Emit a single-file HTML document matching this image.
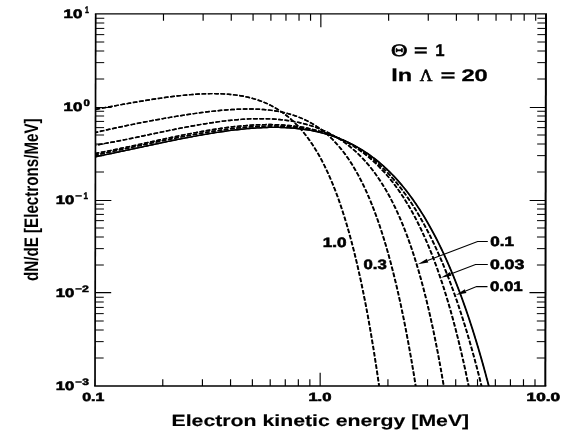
<!DOCTYPE html>
<html><head><meta charset="utf-8"><title>plot</title>
<style>html,body{margin:0;padding:0;background:#fff;}body{width:572px;height:436px;overflow:hidden;font-family:"Liberation Sans",sans-serif;}svg{display:block;will-change:transform;}text{text-rendering:geometricPrecision;}</style></head>
<body>
<svg width="572" height="436" viewBox="0 0 572 436">
<rect width="572" height="436" fill="#fff"/>
<defs><clipPath id="cp"><rect x="95.7" y="14.0" width="450.3" height="372.0"/></clipPath></defs>
<g stroke="#000" fill="none">
<line x1="94.85000000000001" y1="13.9" x2="547.0" y2="13.9" stroke-width="1.3"/>
<line x1="94.15" y1="386.0" x2="546.30" y2="386.0" stroke-width="1.5"/>
<line x1="95.7" y1="14.0" x2="95.00" y2="386.0" stroke-width="1.7"/>
<line x1="546.0" y1="14.0" x2="545.30" y2="386.0" stroke-width="2.0"/>
<path d="M163.48,14.0 v6.7 M162.78,386.0 v-6.7 M203.12,14.0 v6.7 M202.42,386.0 v-6.7 M231.25,14.0 v6.7 M230.55,386.0 v-6.7 M253.07,14.0 v6.7 M252.37,386.0 v-6.7 M270.90,14.0 v6.7 M270.20,386.0 v-6.7 M285.97,14.0 v6.7 M285.27,386.0 v-6.7 M299.03,14.0 v6.7 M298.33,386.0 v-6.7 M310.55,14.0 v6.7 M309.85,386.0 v-6.7 M320.85,14.0 v13.3 M320.15,386.0 v-13.3 M388.63,14.0 v6.7 M387.93,386.0 v-6.7 M428.27,14.0 v6.7 M427.57,386.0 v-6.7 M456.40,14.0 v6.7 M455.70,386.0 v-6.7 M478.22,14.0 v6.7 M477.52,386.0 v-6.7 M496.05,14.0 v6.7 M495.35,386.0 v-6.7 M511.12,14.0 v6.7 M510.42,386.0 v-6.7 M524.18,14.0 v6.7 M523.48,386.0 v-6.7 M535.70,14.0 v6.7 M535.00,386.0 v-6.7" stroke-width="1.15"/>
<path d="M95.05,358.00 h8.6 M545.35,358.00 h-8.6 M95.08,341.63 h8.6 M545.38,341.63 h-8.6 M95.11,330.01 h8.6 M545.41,330.01 h-8.6 M95.12,321.00 h8.6 M545.42,321.00 h-8.6 M95.14,313.63 h8.6 M545.44,313.63 h-8.6 M95.15,307.41 h8.6 M545.45,307.41 h-8.6 M95.16,302.01 h8.6 M545.46,302.01 h-8.6 M95.17,297.26 h8.6 M545.47,297.26 h-8.6 M95.23,265.00 h8.6 M545.53,265.00 h-8.6 M95.26,248.63 h8.6 M545.56,248.63 h-8.6 M95.28,237.01 h8.6 M545.58,237.01 h-8.6 M95.30,228.00 h8.6 M545.60,228.00 h-8.6 M95.31,220.63 h8.6 M545.61,220.63 h-8.6 M95.32,214.41 h8.6 M545.62,214.41 h-8.6 M95.33,209.01 h8.6 M545.63,209.01 h-8.6 M95.34,204.26 h8.6 M545.64,204.26 h-8.6 M95.40,172.00 h8.6 M545.70,172.00 h-8.6 M95.43,155.63 h8.6 M545.73,155.63 h-8.6 M95.46,144.01 h8.6 M545.76,144.01 h-8.6 M95.47,135.00 h8.6 M545.77,135.00 h-8.6 M95.49,127.63 h8.6 M545.79,127.63 h-8.6 M95.50,121.41 h8.6 M545.80,121.41 h-8.6 M95.51,116.01 h8.6 M545.81,116.01 h-8.6 M95.52,111.26 h8.6 M545.82,111.26 h-8.6 M95.58,79.00 h8.6 M545.88,79.00 h-8.6 M95.61,62.63 h8.6 M545.91,62.63 h-8.6 M95.63,51.01 h8.6 M545.93,51.01 h-8.6 M95.65,42.00 h8.6 M545.95,42.00 h-8.6 M95.66,34.63 h8.6 M545.96,34.63 h-8.6 M95.67,28.41 h8.6 M545.97,28.41 h-8.6 M95.68,23.01 h8.6 M545.98,23.01 h-8.6 M95.69,18.26 h8.6 M545.99,18.26 h-8.6" stroke-width="1.0"/>
<path d="M95.18,292.60 h16 M545.48,292.60 h-16 M95.35,200.45 h16 M545.65,200.45 h-16 M95.52,107.45 h16 M545.82,107.45 h-16" stroke-width="1.1"/>
</g>
<g clip-path="url(#cp)" stroke="#000" fill="none" stroke-linejoin="round">
<path d="M95.70,109.30 L97.67,108.94 L99.64,108.58 L101.60,108.22 L103.57,107.87 L105.54,107.51 L107.51,107.15 L109.47,106.79 L111.44,106.44 L113.41,106.08 L115.38,105.72 L117.35,105.37 L119.32,105.02 L121.28,104.66 L123.25,104.31 L125.22,103.96 L127.19,103.62 L129.16,103.27 L131.13,102.93 L133.10,102.58 L135.07,102.24 L137.04,101.91 L139.02,101.57 L140.99,101.24 L142.96,100.91 L144.94,100.59 L146.91,100.27 L148.88,99.95 L150.86,99.64 L152.84,99.33 L154.81,99.02 L156.79,98.72 L158.77,98.43 L160.75,98.14 L162.73,97.85 L164.71,97.57 L166.69,97.30 L168.67,97.04 L170.65,96.78 L172.64,96.53 L174.62,96.28 L176.61,96.05 L178.60,95.82 L180.58,95.60 L182.57,95.39 L184.56,95.19 L186.55,94.99 L188.54,94.81 L190.54,94.64 L192.53,94.48 L194.53,94.34 L196.52,94.20 L198.52,94.08 L200.51,93.97 L202.51,93.88 L204.51,93.80 L206.51,93.73 L208.51,93.69 L210.51,93.65 L212.51,93.64 L214.51,93.64 L216.51,93.67 L218.51,93.71 L220.51,93.77 L222.51,93.86 L224.50,93.96 L226.50,94.09 L228.49,94.25 L230.48,94.42 L232.47,94.63 L234.46,94.86 L236.44,95.12 L238.42,95.40 L240.40,95.72 L242.37,96.07 L244.33,96.44 L246.29,96.85 L248.24,97.30 L250.18,97.77 L252.11,98.29 L254.04,98.83 L255.95,99.42 L257.85,100.04 L259.74,100.69 L261.62,101.39 L263.48,102.12 L265.32,102.89 L267.15,103.70 L268.96,104.55 L270.76,105.43 L272.53,106.36 L274.28,107.32 L276.02,108.32 L277.73,109.36 L279.42,110.43 L281.08,111.54 L282.72,112.68 L284.34,113.86 L285.93,115.07 L287.50,116.31 L289.04,117.59 L290.55,118.89 L292.04,120.23 L293.51,121.59 L294.95,122.98 L296.36,124.39 L297.75,125.83 L299.11,127.30 L300.45,128.78 L301.76,130.29 L303.05,131.82 L304.31,133.37 L305.55,134.94 L306.77,136.53 L307.97,138.13 L309.14,139.75 L310.29,141.38 L311.42,143.03 L312.53,144.70 L313.62,146.38 L314.69,148.07 L315.74,149.77 L316.77,151.48 L317.78,153.21 L318.78,154.94 L319.75,156.69 L320.71,158.44 L321.66,160.21 L322.58,161.98 L323.50,163.76 L324.39,165.55 L325.27,167.34 L326.14,169.14 L326.99,170.95 L327.83,172.77 L328.66,174.59 L329.47,176.42 L330.27,178.25 L331.06,180.09 L331.83,181.93 L332.60,183.78 L333.35,185.63 L334.09,187.49 L334.82,189.35 L335.54,191.22 L336.25,193.09 L336.95,194.96 L337.64,196.84 L338.32,198.72 L338.99,200.61 L339.65,202.49 L340.31,204.38 L340.95,206.28 L341.59,208.17 L342.21,210.07 L342.83,211.97 L343.44,213.88 L344.05,215.78 L344.65,217.69 L345.23,219.60 L345.82,221.52 L346.39,223.43 L346.96,225.35 L347.52,227.27 L348.08,229.19 L348.63,231.12 L349.17,233.04 L349.70,234.97 L350.23,236.90 L350.76,238.83 L351.28,240.76 L351.79,242.69 L352.30,244.62 L352.80,246.56 L353.30,248.50 L353.79,250.44 L354.27,252.38 L354.75,254.32 L355.23,256.26 L355.70,258.20 L356.17,260.15 L356.63,262.09 L357.09,264.04 L357.54,265.99 L357.99,267.94 L358.44,269.89 L358.88,271.84 L359.31,273.79 L359.75,275.74 L360.17,277.70 L360.60,279.65 L361.02,281.61 L361.44,283.56 L361.85,285.52 L362.26,287.48 L362.66,289.44 L363.07,291.40 L363.46,293.36 L363.86,295.32 L364.25,297.28 L364.64,299.24 L365.03,301.20 L365.41,303.16 L365.79,305.13 L366.16,307.09 L366.54,309.06 L366.91,311.02 L367.27,312.99 L367.64,314.96 L368.00,316.92 L368.36,318.89 L368.71,320.86 L369.07,322.83 L369.42,324.80 L369.76,326.77 L370.11,328.74 L370.45,330.71 L370.79,332.68 L371.13,334.65 L371.46,336.62 L371.79,338.59 L372.12,340.56 L372.45,342.54 L372.78,344.51 L373.10,346.48 L373.42,348.46 L373.74,350.43 L374.06,352.41 L374.37,354.38 L374.68,356.36 L374.99,358.33 L375.30,360.31 L375.61,362.29 L375.91,364.26 L376.21,366.24 L376.51,368.22 L376.81,370.20 L377.11,372.17 L377.40,374.15 L377.69,376.13 L377.98,378.11 L378.27,380.09 L378.56,382.07 L378.84,384.05 L379.12,386.03 L379.41,388.01 L379.68,389.99" transform="translate(-0.25,0)" stroke-width="1.45" stroke-dasharray="4.5 1.8" stroke-dashoffset="0"/>
<path d="M95.70,109.30 L97.67,108.94 L99.64,108.58 L101.60,108.22 L103.57,107.87 L105.54,107.51 L107.51,107.15 L109.47,106.79 L111.44,106.44 L113.41,106.08 L115.38,105.72 L117.35,105.37 L119.32,105.02 L121.28,104.66 L123.25,104.31 L125.22,103.96 L127.19,103.62 L129.16,103.27 L131.13,102.93 L133.10,102.58 L135.07,102.24 L137.04,101.91 L139.02,101.57 L140.99,101.24 L142.96,100.91 L144.94,100.59 L146.91,100.27 L148.88,99.95 L150.86,99.64 L152.84,99.33 L154.81,99.02 L156.79,98.72 L158.77,98.43 L160.75,98.14 L162.73,97.85 L164.71,97.57 L166.69,97.30 L168.67,97.04 L170.65,96.78 L172.64,96.53 L174.62,96.28 L176.61,96.05 L178.60,95.82 L180.58,95.60 L182.57,95.39 L184.56,95.19 L186.55,94.99 L188.54,94.81 L190.54,94.64 L192.53,94.48 L194.53,94.34 L196.52,94.20 L198.52,94.08 L200.51,93.97 L202.51,93.88 L204.51,93.80 L206.51,93.73 L208.51,93.69 L210.51,93.65 L212.51,93.64 L214.51,93.64 L216.51,93.67 L218.51,93.71 L220.51,93.77 L222.51,93.86 L224.50,93.96 L226.50,94.09 L228.49,94.25 L230.48,94.42 L232.47,94.63 L234.46,94.86 L236.44,95.12 L238.42,95.40 L240.40,95.72 L242.37,96.07 L244.33,96.44 L246.29,96.85 L248.24,97.30 L250.18,97.77 L252.11,98.29 L254.04,98.83 L255.95,99.42 L257.85,100.04 L259.74,100.69 L261.62,101.39 L263.48,102.12 L265.32,102.89 L267.15,103.70 L268.96,104.55 L270.76,105.43 L272.53,106.36 L274.28,107.32 L276.02,108.32 L277.73,109.36 L279.42,110.43 L281.08,111.54 L282.72,112.68 L284.34,113.86 L285.93,115.07 L287.50,116.31 L289.04,117.59 L290.55,118.89 L292.04,120.23 L293.51,121.59 L294.95,122.98 L296.36,124.39 L297.75,125.83 L299.11,127.30 L300.45,128.78 L301.76,130.29 L303.05,131.82 L304.31,133.37 L305.55,134.94 L306.77,136.53 L307.97,138.13 L309.14,139.75 L310.29,141.38 L311.42,143.03 L312.53,144.70 L313.62,146.38 L314.69,148.07 L315.74,149.77 L316.77,151.48 L317.78,153.21 L318.78,154.94 L319.75,156.69 L320.71,158.44 L321.66,160.21 L322.58,161.98 L323.50,163.76 L324.39,165.55 L325.27,167.34 L326.14,169.14 L326.99,170.95 L327.83,172.77 L328.66,174.59 L329.47,176.42 L330.27,178.25 L331.06,180.09 L331.83,181.93 L332.60,183.78 L333.35,185.63 L334.09,187.49 L334.82,189.35 L335.54,191.22 L336.25,193.09 L336.95,194.96 L337.64,196.84 L338.32,198.72 L338.99,200.61 L339.65,202.49 L340.31,204.38 L340.95,206.28 L341.59,208.17 L342.21,210.07 L342.83,211.97 L343.44,213.88 L344.05,215.78 L344.65,217.69 L345.23,219.60 L345.82,221.52 L346.39,223.43 L346.96,225.35 L347.52,227.27 L348.08,229.19 L348.63,231.12 L349.17,233.04 L349.70,234.97 L350.23,236.90 L350.76,238.83 L351.28,240.76 L351.79,242.69 L352.30,244.62 L352.80,246.56 L353.30,248.50 L353.79,250.44 L354.27,252.38 L354.75,254.32 L355.23,256.26 L355.70,258.20 L356.17,260.15 L356.63,262.09 L357.09,264.04 L357.54,265.99 L357.99,267.94 L358.44,269.89 L358.88,271.84 L359.31,273.79 L359.75,275.74 L360.17,277.70 L360.60,279.65 L361.02,281.61 L361.44,283.56 L361.85,285.52 L362.26,287.48 L362.66,289.44 L363.07,291.40 L363.46,293.36 L363.86,295.32 L364.25,297.28 L364.64,299.24 L365.03,301.20 L365.41,303.16 L365.79,305.13 L366.16,307.09 L366.54,309.06 L366.91,311.02 L367.27,312.99 L367.64,314.96 L368.00,316.92 L368.36,318.89 L368.71,320.86 L369.07,322.83 L369.42,324.80 L369.76,326.77 L370.11,328.74 L370.45,330.71 L370.79,332.68 L371.13,334.65 L371.46,336.62 L371.79,338.59 L372.12,340.56 L372.45,342.54 L372.78,344.51 L373.10,346.48 L373.42,348.46 L373.74,350.43 L374.06,352.41 L374.37,354.38 L374.68,356.36 L374.99,358.33 L375.30,360.31 L375.61,362.29 L375.91,364.26 L376.21,366.24 L376.51,368.22 L376.81,370.20 L377.11,372.17 L377.40,374.15 L377.69,376.13 L377.98,378.11 L378.27,380.09 L378.56,382.07 L378.84,384.05 L379.12,386.03 L379.41,388.01 L379.68,389.99" transform="translate(0.25,0)" stroke-width="1.45" stroke-dasharray="4.5 1.8" stroke-dashoffset="0"/>
<path d="M95.70,132.43 L97.65,131.97 L99.60,131.52 L101.55,131.08 L103.50,130.63 L105.45,130.19 L107.40,129.75 L109.35,129.32 L111.30,128.89 L113.26,128.46 L115.21,128.04 L117.17,127.61 L119.12,127.19 L121.08,126.78 L123.04,126.36 L124.99,125.95 L126.95,125.55 L128.91,125.14 L130.87,124.74 L132.83,124.34 L134.79,123.95 L136.75,123.55 L138.71,123.16 L140.67,122.78 L142.64,122.39 L144.60,122.01 L146.56,121.63 L148.53,121.26 L150.49,120.89 L152.46,120.52 L154.43,120.15 L156.39,119.79 L158.36,119.43 L160.33,119.08 L162.30,118.73 L164.27,118.38 L166.24,118.03 L168.21,117.69 L170.18,117.35 L172.15,117.02 L174.12,116.69 L176.10,116.36 L178.07,116.04 L180.05,115.72 L182.02,115.41 L184.00,115.10 L185.97,114.80 L187.95,114.50 L189.93,114.20 L191.91,113.91 L193.89,113.63 L195.87,113.35 L197.85,113.08 L199.83,112.81 L201.81,112.55 L203.80,112.30 L205.78,112.05 L207.77,111.81 L209.75,111.57 L211.74,111.35 L213.73,111.13 L215.72,110.92 L217.71,110.72 L219.70,110.53 L221.69,110.34 L223.68,110.17 L225.68,110.01 L227.67,109.86 L229.67,109.72 L231.66,109.59 L233.66,109.47 L235.66,109.36 L237.65,109.27 L239.65,109.19 L241.65,109.13 L243.65,109.08 L245.65,109.05 L247.65,109.03 L249.65,109.03 L251.65,109.05 L253.65,109.09 L255.65,109.14 L257.65,109.22 L259.65,109.32 L261.64,109.44 L263.64,109.58 L265.63,109.75 L267.62,109.94 L269.61,110.15 L271.59,110.40 L273.58,110.67 L275.55,110.97 L277.53,111.29 L279.49,111.65 L281.45,112.04 L283.41,112.47 L285.36,112.92 L287.30,113.41 L289.23,113.93 L291.15,114.49 L293.06,115.09 L294.95,115.72 L296.84,116.39 L298.71,117.10 L300.57,117.84 L302.41,118.62 L304.23,119.44 L306.04,120.30 L307.82,121.20 L309.59,122.14 L311.34,123.11 L313.07,124.12 L314.77,125.16 L316.45,126.24 L318.11,127.36 L319.75,128.51 L321.36,129.70 L322.94,130.92 L324.51,132.16 L326.04,133.44 L327.55,134.75 L329.04,136.09 L330.50,137.46 L331.94,138.85 L333.35,140.27 L334.73,141.71 L336.10,143.17 L337.43,144.66 L338.75,146.17 L340.03,147.70 L341.30,149.25 L342.54,150.82 L343.76,152.40 L344.96,154.00 L346.14,155.62 L347.29,157.25 L348.43,158.90 L349.54,160.56 L350.64,162.23 L351.71,163.92 L352.77,165.62 L353.80,167.33 L354.82,169.05 L355.83,170.78 L356.81,172.52 L357.78,174.27 L358.73,176.03 L359.67,177.80 L360.59,179.57 L361.50,181.35 L362.39,183.14 L363.27,184.94 L364.13,186.74 L364.98,188.55 L365.82,190.37 L366.65,192.19 L367.46,194.02 L368.26,195.85 L369.05,197.69 L369.82,199.53 L370.59,201.38 L371.35,203.23 L372.09,205.09 L372.82,206.95 L373.55,208.81 L374.26,210.68 L374.97,212.55 L375.66,214.43 L376.35,216.31 L377.02,218.19 L377.69,220.08 L378.35,221.96 L379.00,223.85 L379.65,225.75 L380.28,227.64 L380.91,229.54 L381.53,231.44 L382.14,233.35 L382.75,235.25 L383.35,237.16 L383.94,239.07 L384.52,240.99 L385.10,242.90 L385.67,244.82 L386.24,246.74 L386.80,248.66 L387.35,250.58 L387.90,252.50 L388.44,254.43 L388.97,256.35 L389.50,258.28 L390.03,260.21 L390.55,262.14 L391.06,264.08 L391.57,266.01 L392.07,267.95 L392.57,269.88 L393.06,271.82 L393.55,273.76 L394.04,275.70 L394.52,277.64 L394.99,279.59 L395.46,281.53 L395.93,283.48 L396.39,285.42 L396.85,287.37 L397.30,289.32 L397.75,291.27 L398.20,293.21 L398.64,295.17 L399.07,297.12 L399.51,299.07 L399.94,301.02 L400.37,302.98 L400.79,304.93 L401.21,306.89 L401.62,308.84 L402.04,310.80 L402.44,312.76 L402.85,314.72 L403.25,316.68 L403.65,318.64 L404.05,320.60 L404.44,322.56 L404.83,324.52 L405.22,326.48 L405.60,328.44 L405.98,330.41 L406.36,332.37 L406.74,334.33 L407.11,336.30 L407.48,338.27 L407.85,340.23 L408.21,342.20 L408.57,344.16 L408.93,346.13 L409.29,348.10 L409.64,350.07 L409.99,352.04 L410.34,354.01 L410.69,355.98 L411.03,357.95 L411.38,359.92 L411.71,361.89 L412.05,363.86 L412.39,365.83 L412.72,367.80 L413.05,369.78 L413.38,371.75 L413.71,373.72 L414.03,375.70 L414.35,377.67 L414.67,379.64 L414.99,381.62 L415.31,383.59 L415.62,385.57 L415.93,387.54 L416.24,389.52 L416.55,391.50" transform="translate(-0.25,0)" stroke-width="1.45" stroke-dasharray="4.5 1.8" stroke-dashoffset="2"/>
<path d="M95.70,132.43 L97.65,131.97 L99.60,131.52 L101.55,131.08 L103.50,130.63 L105.45,130.19 L107.40,129.75 L109.35,129.32 L111.30,128.89 L113.26,128.46 L115.21,128.04 L117.17,127.61 L119.12,127.19 L121.08,126.78 L123.04,126.36 L124.99,125.95 L126.95,125.55 L128.91,125.14 L130.87,124.74 L132.83,124.34 L134.79,123.95 L136.75,123.55 L138.71,123.16 L140.67,122.78 L142.64,122.39 L144.60,122.01 L146.56,121.63 L148.53,121.26 L150.49,120.89 L152.46,120.52 L154.43,120.15 L156.39,119.79 L158.36,119.43 L160.33,119.08 L162.30,118.73 L164.27,118.38 L166.24,118.03 L168.21,117.69 L170.18,117.35 L172.15,117.02 L174.12,116.69 L176.10,116.36 L178.07,116.04 L180.05,115.72 L182.02,115.41 L184.00,115.10 L185.97,114.80 L187.95,114.50 L189.93,114.20 L191.91,113.91 L193.89,113.63 L195.87,113.35 L197.85,113.08 L199.83,112.81 L201.81,112.55 L203.80,112.30 L205.78,112.05 L207.77,111.81 L209.75,111.57 L211.74,111.35 L213.73,111.13 L215.72,110.92 L217.71,110.72 L219.70,110.53 L221.69,110.34 L223.68,110.17 L225.68,110.01 L227.67,109.86 L229.67,109.72 L231.66,109.59 L233.66,109.47 L235.66,109.36 L237.65,109.27 L239.65,109.19 L241.65,109.13 L243.65,109.08 L245.65,109.05 L247.65,109.03 L249.65,109.03 L251.65,109.05 L253.65,109.09 L255.65,109.14 L257.65,109.22 L259.65,109.32 L261.64,109.44 L263.64,109.58 L265.63,109.75 L267.62,109.94 L269.61,110.15 L271.59,110.40 L273.58,110.67 L275.55,110.97 L277.53,111.29 L279.49,111.65 L281.45,112.04 L283.41,112.47 L285.36,112.92 L287.30,113.41 L289.23,113.93 L291.15,114.49 L293.06,115.09 L294.95,115.72 L296.84,116.39 L298.71,117.10 L300.57,117.84 L302.41,118.62 L304.23,119.44 L306.04,120.30 L307.82,121.20 L309.59,122.14 L311.34,123.11 L313.07,124.12 L314.77,125.16 L316.45,126.24 L318.11,127.36 L319.75,128.51 L321.36,129.70 L322.94,130.92 L324.51,132.16 L326.04,133.44 L327.55,134.75 L329.04,136.09 L330.50,137.46 L331.94,138.85 L333.35,140.27 L334.73,141.71 L336.10,143.17 L337.43,144.66 L338.75,146.17 L340.03,147.70 L341.30,149.25 L342.54,150.82 L343.76,152.40 L344.96,154.00 L346.14,155.62 L347.29,157.25 L348.43,158.90 L349.54,160.56 L350.64,162.23 L351.71,163.92 L352.77,165.62 L353.80,167.33 L354.82,169.05 L355.83,170.78 L356.81,172.52 L357.78,174.27 L358.73,176.03 L359.67,177.80 L360.59,179.57 L361.50,181.35 L362.39,183.14 L363.27,184.94 L364.13,186.74 L364.98,188.55 L365.82,190.37 L366.65,192.19 L367.46,194.02 L368.26,195.85 L369.05,197.69 L369.82,199.53 L370.59,201.38 L371.35,203.23 L372.09,205.09 L372.82,206.95 L373.55,208.81 L374.26,210.68 L374.97,212.55 L375.66,214.43 L376.35,216.31 L377.02,218.19 L377.69,220.08 L378.35,221.96 L379.00,223.85 L379.65,225.75 L380.28,227.64 L380.91,229.54 L381.53,231.44 L382.14,233.35 L382.75,235.25 L383.35,237.16 L383.94,239.07 L384.52,240.99 L385.10,242.90 L385.67,244.82 L386.24,246.74 L386.80,248.66 L387.35,250.58 L387.90,252.50 L388.44,254.43 L388.97,256.35 L389.50,258.28 L390.03,260.21 L390.55,262.14 L391.06,264.08 L391.57,266.01 L392.07,267.95 L392.57,269.88 L393.06,271.82 L393.55,273.76 L394.04,275.70 L394.52,277.64 L394.99,279.59 L395.46,281.53 L395.93,283.48 L396.39,285.42 L396.85,287.37 L397.30,289.32 L397.75,291.27 L398.20,293.21 L398.64,295.17 L399.07,297.12 L399.51,299.07 L399.94,301.02 L400.37,302.98 L400.79,304.93 L401.21,306.89 L401.62,308.84 L402.04,310.80 L402.44,312.76 L402.85,314.72 L403.25,316.68 L403.65,318.64 L404.05,320.60 L404.44,322.56 L404.83,324.52 L405.22,326.48 L405.60,328.44 L405.98,330.41 L406.36,332.37 L406.74,334.33 L407.11,336.30 L407.48,338.27 L407.85,340.23 L408.21,342.20 L408.57,344.16 L408.93,346.13 L409.29,348.10 L409.64,350.07 L409.99,352.04 L410.34,354.01 L410.69,355.98 L411.03,357.95 L411.38,359.92 L411.71,361.89 L412.05,363.86 L412.39,365.83 L412.72,367.80 L413.05,369.78 L413.38,371.75 L413.71,373.72 L414.03,375.70 L414.35,377.67 L414.67,379.64 L414.99,381.62 L415.31,383.59 L415.62,385.57 L415.93,387.54 L416.24,389.52 L416.55,391.50" transform="translate(0.25,0)" stroke-width="1.45" stroke-dasharray="4.5 1.8" stroke-dashoffset="2"/>
<path d="M95.70,145.11 L97.67,144.78 L99.64,144.44 L101.61,144.09 L103.58,143.74 L105.55,143.39 L107.52,143.03 L109.49,142.67 L111.45,142.30 L113.42,141.93 L115.38,141.55 L117.34,141.17 L119.31,140.78 L121.27,140.40 L123.23,140.01 L125.19,139.61 L127.15,139.22 L129.11,138.82 L131.07,138.42 L133.03,138.02 L134.99,137.61 L136.95,137.20 L138.90,136.80 L140.86,136.39 L142.82,135.98 L144.78,135.57 L146.73,135.15 L148.69,134.74 L150.65,134.33 L152.61,133.92 L154.56,133.51 L156.52,133.10 L158.48,132.69 L160.44,132.28 L162.39,131.87 L164.35,131.46 L166.31,131.06 L168.27,130.65 L170.23,130.25 L172.19,129.86 L174.15,129.46 L176.11,129.07 L178.07,128.68 L180.03,128.29 L182.00,127.91 L183.96,127.53 L185.92,127.15 L187.89,126.78 L189.86,126.41 L191.82,126.05 L193.79,125.69 L195.76,125.34 L197.73,124.99 L199.70,124.65 L201.67,124.32 L203.64,123.99 L205.62,123.67 L207.59,123.35 L209.57,123.05 L211.55,122.75 L213.53,122.45 L215.51,122.17 L217.49,121.89 L219.47,121.63 L221.45,121.37 L223.44,121.12 L225.42,120.88 L227.41,120.65 L229.40,120.43 L231.39,120.23 L233.38,120.03 L235.37,119.85 L237.36,119.67 L239.35,119.51 L241.35,119.36 L243.34,119.23 L245.34,119.11 L247.34,119.00 L249.33,118.90 L251.33,118.82 L253.33,118.76 L255.33,118.71 L257.33,118.68 L259.33,118.66 L261.33,118.66 L263.33,118.68 L265.33,118.72 L267.33,118.77 L269.33,118.85 L271.33,118.94 L273.32,119.05 L275.32,119.18 L277.31,119.34 L279.31,119.51 L281.30,119.71 L283.28,119.93 L285.27,120.17 L287.25,120.44 L289.23,120.73 L291.20,121.04 L293.18,121.38 L295.14,121.75 L297.10,122.14 L299.06,122.56 L301.01,123.00 L302.95,123.48 L304.89,123.98 L306.82,124.51 L308.74,125.06 L310.65,125.65 L312.55,126.27 L314.45,126.91 L316.33,127.59 L318.20,128.29 L320.06,129.03 L321.91,129.79 L323.74,130.59 L325.56,131.42 L327.37,132.27 L329.16,133.16 L330.94,134.08 L332.70,135.03 L334.44,136.01 L336.17,137.02 L337.88,138.05 L339.57,139.12 L341.24,140.22 L342.90,141.34 L344.53,142.49 L346.15,143.67 L347.74,144.88 L349.32,146.11 L350.87,147.37 L352.41,148.65 L353.92,149.96 L355.41,151.30 L356.88,152.65 L358.33,154.03 L359.76,155.43 L361.17,156.85 L362.55,158.29 L363.92,159.75 L365.26,161.23 L366.59,162.73 L367.89,164.25 L369.17,165.78 L370.44,167.33 L371.68,168.90 L372.90,170.48 L374.11,172.08 L375.29,173.69 L376.46,175.32 L377.61,176.95 L378.73,178.60 L379.85,180.27 L380.94,181.94 L382.02,183.63 L383.08,185.32 L384.12,187.03 L385.14,188.75 L386.15,190.47 L387.15,192.21 L388.13,193.95 L389.09,195.70 L390.04,197.46 L390.98,199.23 L391.90,201.01 L392.81,202.79 L393.70,204.58 L394.58,206.38 L395.45,208.18 L396.30,209.99 L397.14,211.80 L397.97,213.62 L398.79,215.44 L399.60,217.27 L400.39,219.11 L401.18,220.95 L401.95,222.79 L402.71,224.64 L403.46,226.50 L404.21,228.35 L404.94,230.21 L405.66,232.08 L406.37,233.95 L407.08,235.82 L407.77,237.70 L408.46,239.58 L409.13,241.46 L409.80,243.34 L410.46,245.23 L411.11,247.12 L411.76,249.01 L412.39,250.91 L413.02,252.81 L413.64,254.71 L414.25,256.62 L414.86,258.52 L415.46,260.43 L416.05,262.34 L416.63,264.25 L417.21,266.17 L417.78,268.08 L418.35,270.00 L418.91,271.92 L419.46,273.84 L420.01,275.77 L420.55,277.69 L421.08,279.62 L421.61,281.55 L422.13,283.48 L422.65,285.41 L423.17,287.35 L423.67,289.28 L424.18,291.22 L424.67,293.15 L425.16,295.09 L425.65,297.03 L426.13,298.97 L426.61,300.91 L427.08,302.86 L427.55,304.80 L428.02,306.75 L428.48,308.69 L428.93,310.64 L429.38,312.59 L429.83,314.54 L430.27,316.49 L430.71,318.44 L431.14,320.39 L431.58,322.35 L432.00,324.30 L432.42,326.26 L432.84,328.21 L433.26,330.17 L433.67,332.12 L434.08,334.08 L434.48,336.04 L434.89,338.00 L435.28,339.96 L435.68,341.92 L436.07,343.88 L436.46,345.84 L436.84,347.81 L437.22,349.77 L437.60,351.73 L437.98,353.70 L438.35,355.66 L438.72,357.63 L439.09,359.60 L439.45,361.56 L439.81,363.53 L440.17,365.50 L440.52,367.46 L440.88,369.43 L441.23,371.40 L441.57,373.37 L441.92,375.34 L442.26,377.31 L442.60,379.28 L442.94,381.25 L443.27,383.23 L443.61,385.20 L443.94,387.17 L444.26,389.14 L444.59,391.12" transform="translate(-0.25,0)" stroke-width="1.45" stroke-dasharray="4.5 1.8" stroke-dashoffset="4"/>
<path d="M95.70,145.11 L97.67,144.78 L99.64,144.44 L101.61,144.09 L103.58,143.74 L105.55,143.39 L107.52,143.03 L109.49,142.67 L111.45,142.30 L113.42,141.93 L115.38,141.55 L117.34,141.17 L119.31,140.78 L121.27,140.40 L123.23,140.01 L125.19,139.61 L127.15,139.22 L129.11,138.82 L131.07,138.42 L133.03,138.02 L134.99,137.61 L136.95,137.20 L138.90,136.80 L140.86,136.39 L142.82,135.98 L144.78,135.57 L146.73,135.15 L148.69,134.74 L150.65,134.33 L152.61,133.92 L154.56,133.51 L156.52,133.10 L158.48,132.69 L160.44,132.28 L162.39,131.87 L164.35,131.46 L166.31,131.06 L168.27,130.65 L170.23,130.25 L172.19,129.86 L174.15,129.46 L176.11,129.07 L178.07,128.68 L180.03,128.29 L182.00,127.91 L183.96,127.53 L185.92,127.15 L187.89,126.78 L189.86,126.41 L191.82,126.05 L193.79,125.69 L195.76,125.34 L197.73,124.99 L199.70,124.65 L201.67,124.32 L203.64,123.99 L205.62,123.67 L207.59,123.35 L209.57,123.05 L211.55,122.75 L213.53,122.45 L215.51,122.17 L217.49,121.89 L219.47,121.63 L221.45,121.37 L223.44,121.12 L225.42,120.88 L227.41,120.65 L229.40,120.43 L231.39,120.23 L233.38,120.03 L235.37,119.85 L237.36,119.67 L239.35,119.51 L241.35,119.36 L243.34,119.23 L245.34,119.11 L247.34,119.00 L249.33,118.90 L251.33,118.82 L253.33,118.76 L255.33,118.71 L257.33,118.68 L259.33,118.66 L261.33,118.66 L263.33,118.68 L265.33,118.72 L267.33,118.77 L269.33,118.85 L271.33,118.94 L273.32,119.05 L275.32,119.18 L277.31,119.34 L279.31,119.51 L281.30,119.71 L283.28,119.93 L285.27,120.17 L287.25,120.44 L289.23,120.73 L291.20,121.04 L293.18,121.38 L295.14,121.75 L297.10,122.14 L299.06,122.56 L301.01,123.00 L302.95,123.48 L304.89,123.98 L306.82,124.51 L308.74,125.06 L310.65,125.65 L312.55,126.27 L314.45,126.91 L316.33,127.59 L318.20,128.29 L320.06,129.03 L321.91,129.79 L323.74,130.59 L325.56,131.42 L327.37,132.27 L329.16,133.16 L330.94,134.08 L332.70,135.03 L334.44,136.01 L336.17,137.02 L337.88,138.05 L339.57,139.12 L341.24,140.22 L342.90,141.34 L344.53,142.49 L346.15,143.67 L347.74,144.88 L349.32,146.11 L350.87,147.37 L352.41,148.65 L353.92,149.96 L355.41,151.30 L356.88,152.65 L358.33,154.03 L359.76,155.43 L361.17,156.85 L362.55,158.29 L363.92,159.75 L365.26,161.23 L366.59,162.73 L367.89,164.25 L369.17,165.78 L370.44,167.33 L371.68,168.90 L372.90,170.48 L374.11,172.08 L375.29,173.69 L376.46,175.32 L377.61,176.95 L378.73,178.60 L379.85,180.27 L380.94,181.94 L382.02,183.63 L383.08,185.32 L384.12,187.03 L385.14,188.75 L386.15,190.47 L387.15,192.21 L388.13,193.95 L389.09,195.70 L390.04,197.46 L390.98,199.23 L391.90,201.01 L392.81,202.79 L393.70,204.58 L394.58,206.38 L395.45,208.18 L396.30,209.99 L397.14,211.80 L397.97,213.62 L398.79,215.44 L399.60,217.27 L400.39,219.11 L401.18,220.95 L401.95,222.79 L402.71,224.64 L403.46,226.50 L404.21,228.35 L404.94,230.21 L405.66,232.08 L406.37,233.95 L407.08,235.82 L407.77,237.70 L408.46,239.58 L409.13,241.46 L409.80,243.34 L410.46,245.23 L411.11,247.12 L411.76,249.01 L412.39,250.91 L413.02,252.81 L413.64,254.71 L414.25,256.62 L414.86,258.52 L415.46,260.43 L416.05,262.34 L416.63,264.25 L417.21,266.17 L417.78,268.08 L418.35,270.00 L418.91,271.92 L419.46,273.84 L420.01,275.77 L420.55,277.69 L421.08,279.62 L421.61,281.55 L422.13,283.48 L422.65,285.41 L423.17,287.35 L423.67,289.28 L424.18,291.22 L424.67,293.15 L425.16,295.09 L425.65,297.03 L426.13,298.97 L426.61,300.91 L427.08,302.86 L427.55,304.80 L428.02,306.75 L428.48,308.69 L428.93,310.64 L429.38,312.59 L429.83,314.54 L430.27,316.49 L430.71,318.44 L431.14,320.39 L431.58,322.35 L432.00,324.30 L432.42,326.26 L432.84,328.21 L433.26,330.17 L433.67,332.12 L434.08,334.08 L434.48,336.04 L434.89,338.00 L435.28,339.96 L435.68,341.92 L436.07,343.88 L436.46,345.84 L436.84,347.81 L437.22,349.77 L437.60,351.73 L437.98,353.70 L438.35,355.66 L438.72,357.63 L439.09,359.60 L439.45,361.56 L439.81,363.53 L440.17,365.50 L440.52,367.46 L440.88,369.43 L441.23,371.40 L441.57,373.37 L441.92,375.34 L442.26,377.31 L442.60,379.28 L442.94,381.25 L443.27,383.23 L443.61,385.20 L443.94,387.17 L444.26,389.14 L444.59,391.12" transform="translate(0.25,0)" stroke-width="1.45" stroke-dasharray="4.5 1.8" stroke-dashoffset="4"/>
<path d="M95.70,153.43 L97.67,153.06 L99.63,152.68 L101.59,152.30 L103.56,151.92 L105.52,151.53 L107.48,151.14 L109.44,150.75 L111.40,150.35 L113.36,149.95 L115.32,149.54 L117.28,149.14 L119.23,148.73 L121.19,148.31 L123.15,147.90 L125.10,147.48 L127.06,147.07 L129.02,146.65 L130.97,146.22 L132.93,145.80 L134.88,145.38 L136.83,144.95 L138.79,144.53 L140.74,144.10 L142.70,143.67 L144.65,143.24 L146.60,142.82 L148.56,142.39 L150.51,141.96 L152.47,141.53 L154.42,141.11 L156.37,140.68 L158.33,140.26 L160.28,139.83 L162.24,139.41 L164.19,138.99 L166.15,138.57 L168.10,138.15 L170.06,137.74 L172.02,137.32 L173.97,136.91 L175.93,136.51 L177.89,136.10 L179.85,135.70 L181.81,135.30 L183.77,134.90 L185.73,134.51 L187.69,134.12 L189.66,133.74 L191.62,133.36 L193.58,132.99 L195.55,132.61 L197.52,132.25 L199.48,131.89 L201.45,131.53 L203.42,131.18 L205.39,130.84 L207.36,130.50 L209.34,130.17 L211.31,129.85 L213.28,129.53 L215.26,129.22 L217.24,128.92 L219.21,128.62 L221.19,128.33 L223.17,128.05 L225.16,127.78 L227.14,127.52 L229.12,127.27 L231.11,127.02 L233.09,126.79 L235.08,126.57 L237.07,126.35 L239.06,126.15 L241.05,125.95 L243.04,125.77 L245.03,125.60 L247.03,125.44 L249.02,125.30 L251.02,125.16 L253.01,125.04 L255.01,124.93 L257.01,124.84 L259.01,124.76 L261.01,124.69 L263.01,124.64 L265.00,124.61 L267.00,124.59 L269.00,124.58 L271.00,124.59 L273.00,124.62 L275.00,124.67 L277.00,124.73 L279.00,124.81 L281.00,124.91 L283.00,125.03 L284.99,125.17 L286.98,125.32 L288.98,125.50 L290.97,125.70 L292.95,125.92 L294.94,126.16 L296.92,126.42 L298.90,126.70 L300.88,127.01 L302.85,127.34 L304.82,127.69 L306.78,128.07 L308.74,128.47 L310.70,128.90 L312.65,129.35 L314.59,129.83 L316.52,130.33 L318.45,130.85 L320.38,131.41 L322.29,131.99 L324.20,132.60 L326.09,133.23 L327.98,133.89 L329.86,134.58 L331.73,135.29 L333.58,136.03 L335.43,136.80 L337.26,137.60 L339.09,138.43 L340.89,139.28 L342.69,140.16 L344.47,141.06 L346.24,141.99 L348.00,142.95 L349.74,143.94 L351.46,144.95 L353.17,145.99 L354.87,147.06 L356.54,148.15 L358.20,149.26 L359.85,150.40 L361.47,151.56 L363.08,152.75 L364.67,153.96 L366.25,155.19 L367.81,156.45 L369.34,157.73 L370.86,159.03 L372.37,160.35 L373.85,161.69 L375.32,163.05 L376.77,164.43 L378.20,165.83 L379.61,167.24 L381.00,168.68 L382.38,170.13 L383.74,171.60 L385.08,173.08 L386.40,174.58 L387.70,176.10 L388.99,177.63 L390.26,179.17 L391.52,180.73 L392.75,182.30 L393.97,183.89 L395.18,185.48 L396.36,187.09 L397.54,188.71 L398.69,190.34 L399.83,191.99 L400.96,193.64 L402.07,195.30 L403.16,196.98 L404.25,198.66 L405.31,200.35 L406.36,202.05 L407.40,203.76 L408.43,205.48 L409.44,207.20 L410.44,208.94 L411.42,210.68 L412.40,212.42 L413.36,214.18 L414.31,215.94 L415.24,217.71 L416.17,219.48 L417.08,221.26 L417.98,223.05 L418.87,224.84 L419.75,226.63 L420.62,228.43 L421.48,230.24 L422.33,232.05 L423.16,233.87 L423.99,235.69 L424.81,237.51 L425.62,239.34 L426.42,241.18 L427.20,243.01 L427.99,244.86 L428.76,246.70 L429.52,248.55 L430.27,250.40 L431.02,252.26 L431.76,254.12 L432.49,255.98 L433.21,257.85 L433.92,259.71 L434.63,261.58 L435.32,263.46 L436.02,265.34 L436.70,267.22 L437.38,269.10 L438.04,270.98 L438.71,272.87 L439.36,274.76 L440.01,276.65 L440.65,278.54 L441.29,280.44 L441.92,282.34 L442.54,284.24 L443.16,286.14 L443.77,288.05 L444.38,289.95 L444.98,291.86 L445.57,293.77 L446.16,295.68 L446.74,297.59 L447.32,299.51 L447.89,301.43 L448.46,303.34 L449.02,305.26 L449.58,307.18 L450.13,309.11 L450.67,311.03 L451.22,312.96 L451.75,314.88 L452.29,316.81 L452.81,318.74 L453.34,320.67 L453.85,322.60 L454.37,324.53 L454.88,326.47 L455.38,328.40 L455.89,330.34 L456.38,332.28 L456.88,334.22 L457.36,336.15 L457.85,338.09 L458.33,340.04 L458.81,341.98 L459.28,343.92 L459.75,345.87 L460.22,347.81 L460.68,349.76 L461.14,351.70 L461.59,353.65 L462.05,355.60 L462.50,357.55 L462.94,359.50 L463.38,361.45 L463.82,363.40 L464.26,365.35 L464.69,367.30 L465.12,369.26 L465.54,371.21 L465.96,373.17 L466.38,375.12 L466.80,377.08 L467.21,379.04 L467.63,380.99 L468.03,382.95 L468.44,384.91 L468.84,386.87 L469.24,388.83 L469.64,390.79" transform="translate(-0.25,0)" stroke-width="1.45" stroke-dasharray="4.5 1.8" stroke-dashoffset="1"/>
<path d="M95.70,153.43 L97.67,153.06 L99.63,152.68 L101.59,152.30 L103.56,151.92 L105.52,151.53 L107.48,151.14 L109.44,150.75 L111.40,150.35 L113.36,149.95 L115.32,149.54 L117.28,149.14 L119.23,148.73 L121.19,148.31 L123.15,147.90 L125.10,147.48 L127.06,147.07 L129.02,146.65 L130.97,146.22 L132.93,145.80 L134.88,145.38 L136.83,144.95 L138.79,144.53 L140.74,144.10 L142.70,143.67 L144.65,143.24 L146.60,142.82 L148.56,142.39 L150.51,141.96 L152.47,141.53 L154.42,141.11 L156.37,140.68 L158.33,140.26 L160.28,139.83 L162.24,139.41 L164.19,138.99 L166.15,138.57 L168.10,138.15 L170.06,137.74 L172.02,137.32 L173.97,136.91 L175.93,136.51 L177.89,136.10 L179.85,135.70 L181.81,135.30 L183.77,134.90 L185.73,134.51 L187.69,134.12 L189.66,133.74 L191.62,133.36 L193.58,132.99 L195.55,132.61 L197.52,132.25 L199.48,131.89 L201.45,131.53 L203.42,131.18 L205.39,130.84 L207.36,130.50 L209.34,130.17 L211.31,129.85 L213.28,129.53 L215.26,129.22 L217.24,128.92 L219.21,128.62 L221.19,128.33 L223.17,128.05 L225.16,127.78 L227.14,127.52 L229.12,127.27 L231.11,127.02 L233.09,126.79 L235.08,126.57 L237.07,126.35 L239.06,126.15 L241.05,125.95 L243.04,125.77 L245.03,125.60 L247.03,125.44 L249.02,125.30 L251.02,125.16 L253.01,125.04 L255.01,124.93 L257.01,124.84 L259.01,124.76 L261.01,124.69 L263.01,124.64 L265.00,124.61 L267.00,124.59 L269.00,124.58 L271.00,124.59 L273.00,124.62 L275.00,124.67 L277.00,124.73 L279.00,124.81 L281.00,124.91 L283.00,125.03 L284.99,125.17 L286.98,125.32 L288.98,125.50 L290.97,125.70 L292.95,125.92 L294.94,126.16 L296.92,126.42 L298.90,126.70 L300.88,127.01 L302.85,127.34 L304.82,127.69 L306.78,128.07 L308.74,128.47 L310.70,128.90 L312.65,129.35 L314.59,129.83 L316.52,130.33 L318.45,130.85 L320.38,131.41 L322.29,131.99 L324.20,132.60 L326.09,133.23 L327.98,133.89 L329.86,134.58 L331.73,135.29 L333.58,136.03 L335.43,136.80 L337.26,137.60 L339.09,138.43 L340.89,139.28 L342.69,140.16 L344.47,141.06 L346.24,141.99 L348.00,142.95 L349.74,143.94 L351.46,144.95 L353.17,145.99 L354.87,147.06 L356.54,148.15 L358.20,149.26 L359.85,150.40 L361.47,151.56 L363.08,152.75 L364.67,153.96 L366.25,155.19 L367.81,156.45 L369.34,157.73 L370.86,159.03 L372.37,160.35 L373.85,161.69 L375.32,163.05 L376.77,164.43 L378.20,165.83 L379.61,167.24 L381.00,168.68 L382.38,170.13 L383.74,171.60 L385.08,173.08 L386.40,174.58 L387.70,176.10 L388.99,177.63 L390.26,179.17 L391.52,180.73 L392.75,182.30 L393.97,183.89 L395.18,185.48 L396.36,187.09 L397.54,188.71 L398.69,190.34 L399.83,191.99 L400.96,193.64 L402.07,195.30 L403.16,196.98 L404.25,198.66 L405.31,200.35 L406.36,202.05 L407.40,203.76 L408.43,205.48 L409.44,207.20 L410.44,208.94 L411.42,210.68 L412.40,212.42 L413.36,214.18 L414.31,215.94 L415.24,217.71 L416.17,219.48 L417.08,221.26 L417.98,223.05 L418.87,224.84 L419.75,226.63 L420.62,228.43 L421.48,230.24 L422.33,232.05 L423.16,233.87 L423.99,235.69 L424.81,237.51 L425.62,239.34 L426.42,241.18 L427.20,243.01 L427.99,244.86 L428.76,246.70 L429.52,248.55 L430.27,250.40 L431.02,252.26 L431.76,254.12 L432.49,255.98 L433.21,257.85 L433.92,259.71 L434.63,261.58 L435.32,263.46 L436.02,265.34 L436.70,267.22 L437.38,269.10 L438.04,270.98 L438.71,272.87 L439.36,274.76 L440.01,276.65 L440.65,278.54 L441.29,280.44 L441.92,282.34 L442.54,284.24 L443.16,286.14 L443.77,288.05 L444.38,289.95 L444.98,291.86 L445.57,293.77 L446.16,295.68 L446.74,297.59 L447.32,299.51 L447.89,301.43 L448.46,303.34 L449.02,305.26 L449.58,307.18 L450.13,309.11 L450.67,311.03 L451.22,312.96 L451.75,314.88 L452.29,316.81 L452.81,318.74 L453.34,320.67 L453.85,322.60 L454.37,324.53 L454.88,326.47 L455.38,328.40 L455.89,330.34 L456.38,332.28 L456.88,334.22 L457.36,336.15 L457.85,338.09 L458.33,340.04 L458.81,341.98 L459.28,343.92 L459.75,345.87 L460.22,347.81 L460.68,349.76 L461.14,351.70 L461.59,353.65 L462.05,355.60 L462.50,357.55 L462.94,359.50 L463.38,361.45 L463.82,363.40 L464.26,365.35 L464.69,367.30 L465.12,369.26 L465.54,371.21 L465.96,373.17 L466.38,375.12 L466.80,377.08 L467.21,379.04 L467.63,380.99 L468.03,382.95 L468.44,384.91 L468.84,386.87 L469.24,388.83 L469.64,390.79" transform="translate(0.25,0)" stroke-width="1.45" stroke-dasharray="4.5 1.8" stroke-dashoffset="1"/>
<path d="M95.70,155.07 L97.66,154.66 L99.61,154.24 L101.57,153.83 L103.53,153.41 L105.48,152.99 L107.44,152.57 L109.39,152.15 L111.35,151.73 L113.30,151.31 L115.26,150.89 L117.21,150.47 L119.17,150.04 L121.12,149.62 L123.08,149.20 L125.03,148.77 L126.99,148.35 L128.94,147.93 L130.89,147.50 L132.85,147.08 L134.80,146.66 L136.76,146.23 L138.71,145.81 L140.67,145.39 L142.62,144.97 L144.58,144.55 L146.54,144.13 L148.49,143.71 L150.45,143.29 L152.40,142.88 L154.36,142.46 L156.32,142.05 L158.27,141.64 L160.23,141.23 L162.19,140.82 L164.15,140.41 L166.11,140.01 L168.06,139.61 L170.02,139.20 L171.98,138.81 L173.95,138.41 L175.91,138.02 L177.87,137.63 L179.83,137.24 L181.79,136.86 L183.76,136.48 L185.72,136.10 L187.69,135.73 L189.65,135.36 L191.62,134.99 L193.58,134.63 L195.55,134.27 L197.52,133.92 L199.49,133.57 L201.46,133.22 L203.43,132.89 L205.40,132.55 L207.38,132.22 L209.35,131.90 L211.32,131.58 L213.30,131.27 L215.28,130.97 L217.25,130.67 L219.23,130.38 L221.21,130.09 L223.19,129.81 L225.17,129.54 L227.16,129.28 L229.14,129.03 L231.13,128.78 L233.11,128.54 L235.10,128.31 L237.09,128.09 L239.07,127.88 L241.06,127.68 L243.06,127.49 L245.05,127.31 L247.04,127.14 L249.03,126.98 L251.03,126.83 L253.02,126.70 L255.02,126.57 L257.02,126.46 L259.01,126.36 L261.01,126.28 L263.01,126.21 L265.01,126.15 L267.01,126.10 L269.01,126.08 L271.01,126.06 L273.01,126.06 L275.01,126.08 L277.01,126.12 L279.01,126.17 L281.01,126.24 L283.01,126.32 L285.00,126.43 L287.00,126.55 L288.99,126.69 L290.99,126.86 L292.98,127.04 L294.97,127.24 L296.96,127.47 L298.94,127.71 L300.92,127.98 L302.90,128.27 L304.88,128.58 L306.85,128.92 L308.82,129.28 L310.78,129.66 L312.74,130.07 L314.69,130.50 L316.64,130.96 L318.58,131.44 L320.51,131.95 L322.44,132.49 L324.36,133.05 L326.27,133.63 L328.17,134.25 L330.07,134.89 L331.95,135.55 L333.83,136.25 L335.70,136.97 L337.55,137.72 L339.39,138.49 L341.23,139.30 L343.05,140.12 L344.85,140.98 L346.65,141.86 L348.43,142.77 L350.20,143.71 L351.95,144.67 L353.69,145.65 L355.42,146.67 L357.13,147.70 L358.82,148.77 L360.50,149.85 L362.16,150.96 L363.81,152.10 L365.44,153.25 L367.06,154.43 L368.66,155.63 L370.24,156.86 L371.80,158.10 L373.35,159.37 L374.88,160.65 L376.40,161.96 L377.90,163.28 L379.38,164.63 L380.85,165.99 L382.29,167.37 L383.73,168.76 L385.14,170.18 L386.54,171.61 L387.92,173.05 L389.29,174.51 L390.64,175.99 L391.97,177.48 L393.29,178.98 L394.59,180.50 L395.88,182.03 L397.15,183.57 L398.41,185.13 L399.65,186.69 L400.88,188.27 L402.10,189.86 L403.29,191.46 L404.48,193.07 L405.65,194.70 L406.81,196.33 L407.95,197.97 L409.08,199.62 L410.20,201.28 L411.31,202.94 L412.40,204.62 L413.48,206.30 L414.55,207.99 L415.60,209.69 L416.64,211.40 L417.68,213.11 L418.70,214.83 L419.71,216.56 L420.71,218.29 L421.69,220.03 L422.67,221.77 L423.64,223.52 L424.59,225.28 L425.54,227.04 L426.47,228.81 L427.40,230.58 L428.32,232.36 L429.23,234.14 L430.12,235.93 L431.01,237.72 L431.89,239.52 L432.76,241.32 L433.62,243.12 L434.48,244.93 L435.32,246.74 L436.16,248.56 L436.99,250.38 L437.81,252.20 L438.62,254.03 L439.43,255.86 L440.23,257.70 L441.02,259.53 L441.80,261.37 L442.58,263.22 L443.35,265.06 L444.11,266.91 L444.87,268.76 L445.61,270.62 L446.36,272.48 L447.09,274.34 L447.82,276.20 L448.54,278.06 L449.26,279.93 L449.97,281.80 L450.67,283.67 L451.37,285.55 L452.06,287.42 L452.75,289.30 L453.43,291.18 L454.11,293.06 L454.78,294.95 L455.44,296.83 L456.10,298.72 L456.76,300.61 L457.41,302.50 L458.05,304.40 L458.69,306.29 L459.32,308.19 L459.95,310.09 L460.58,311.99 L461.19,313.89 L461.81,315.79 L462.42,317.70 L463.03,319.60 L463.63,321.51 L464.22,323.42 L464.82,325.33 L465.40,327.24 L465.99,329.15 L466.57,331.07 L467.14,332.98 L467.72,334.90 L468.28,336.82 L468.85,338.74 L469.41,340.66 L469.96,342.58 L470.52,344.50 L471.07,346.42 L471.61,348.35 L472.15,350.27 L472.69,352.20 L473.22,354.13 L473.75,356.06 L474.28,357.98 L474.80,359.92 L475.32,361.85 L475.84,363.78 L476.36,365.71 L476.87,367.64 L477.37,369.58 L477.88,371.51 L478.38,373.45 L478.88,375.39 L479.37,377.33 L479.86,379.26 L480.35,381.20 L480.84,383.14 L481.32,385.08 L481.80,387.03 L482.28,388.97 L482.75,390.91" transform="translate(-0.25,0)" stroke-width="1.45" stroke-dasharray="4.5 1.8" stroke-dashoffset="1.6"/>
<path d="M95.70,155.07 L97.66,154.66 L99.61,154.24 L101.57,153.83 L103.53,153.41 L105.48,152.99 L107.44,152.57 L109.39,152.15 L111.35,151.73 L113.30,151.31 L115.26,150.89 L117.21,150.47 L119.17,150.04 L121.12,149.62 L123.08,149.20 L125.03,148.77 L126.99,148.35 L128.94,147.93 L130.89,147.50 L132.85,147.08 L134.80,146.66 L136.76,146.23 L138.71,145.81 L140.67,145.39 L142.62,144.97 L144.58,144.55 L146.54,144.13 L148.49,143.71 L150.45,143.29 L152.40,142.88 L154.36,142.46 L156.32,142.05 L158.27,141.64 L160.23,141.23 L162.19,140.82 L164.15,140.41 L166.11,140.01 L168.06,139.61 L170.02,139.20 L171.98,138.81 L173.95,138.41 L175.91,138.02 L177.87,137.63 L179.83,137.24 L181.79,136.86 L183.76,136.48 L185.72,136.10 L187.69,135.73 L189.65,135.36 L191.62,134.99 L193.58,134.63 L195.55,134.27 L197.52,133.92 L199.49,133.57 L201.46,133.22 L203.43,132.89 L205.40,132.55 L207.38,132.22 L209.35,131.90 L211.32,131.58 L213.30,131.27 L215.28,130.97 L217.25,130.67 L219.23,130.38 L221.21,130.09 L223.19,129.81 L225.17,129.54 L227.16,129.28 L229.14,129.03 L231.13,128.78 L233.11,128.54 L235.10,128.31 L237.09,128.09 L239.07,127.88 L241.06,127.68 L243.06,127.49 L245.05,127.31 L247.04,127.14 L249.03,126.98 L251.03,126.83 L253.02,126.70 L255.02,126.57 L257.02,126.46 L259.01,126.36 L261.01,126.28 L263.01,126.21 L265.01,126.15 L267.01,126.10 L269.01,126.08 L271.01,126.06 L273.01,126.06 L275.01,126.08 L277.01,126.12 L279.01,126.17 L281.01,126.24 L283.01,126.32 L285.00,126.43 L287.00,126.55 L288.99,126.69 L290.99,126.86 L292.98,127.04 L294.97,127.24 L296.96,127.47 L298.94,127.71 L300.92,127.98 L302.90,128.27 L304.88,128.58 L306.85,128.92 L308.82,129.28 L310.78,129.66 L312.74,130.07 L314.69,130.50 L316.64,130.96 L318.58,131.44 L320.51,131.95 L322.44,132.49 L324.36,133.05 L326.27,133.63 L328.17,134.25 L330.07,134.89 L331.95,135.55 L333.83,136.25 L335.70,136.97 L337.55,137.72 L339.39,138.49 L341.23,139.30 L343.05,140.12 L344.85,140.98 L346.65,141.86 L348.43,142.77 L350.20,143.71 L351.95,144.67 L353.69,145.65 L355.42,146.67 L357.13,147.70 L358.82,148.77 L360.50,149.85 L362.16,150.96 L363.81,152.10 L365.44,153.25 L367.06,154.43 L368.66,155.63 L370.24,156.86 L371.80,158.10 L373.35,159.37 L374.88,160.65 L376.40,161.96 L377.90,163.28 L379.38,164.63 L380.85,165.99 L382.29,167.37 L383.73,168.76 L385.14,170.18 L386.54,171.61 L387.92,173.05 L389.29,174.51 L390.64,175.99 L391.97,177.48 L393.29,178.98 L394.59,180.50 L395.88,182.03 L397.15,183.57 L398.41,185.13 L399.65,186.69 L400.88,188.27 L402.10,189.86 L403.29,191.46 L404.48,193.07 L405.65,194.70 L406.81,196.33 L407.95,197.97 L409.08,199.62 L410.20,201.28 L411.31,202.94 L412.40,204.62 L413.48,206.30 L414.55,207.99 L415.60,209.69 L416.64,211.40 L417.68,213.11 L418.70,214.83 L419.71,216.56 L420.71,218.29 L421.69,220.03 L422.67,221.77 L423.64,223.52 L424.59,225.28 L425.54,227.04 L426.47,228.81 L427.40,230.58 L428.32,232.36 L429.23,234.14 L430.12,235.93 L431.01,237.72 L431.89,239.52 L432.76,241.32 L433.62,243.12 L434.48,244.93 L435.32,246.74 L436.16,248.56 L436.99,250.38 L437.81,252.20 L438.62,254.03 L439.43,255.86 L440.23,257.70 L441.02,259.53 L441.80,261.37 L442.58,263.22 L443.35,265.06 L444.11,266.91 L444.87,268.76 L445.61,270.62 L446.36,272.48 L447.09,274.34 L447.82,276.20 L448.54,278.06 L449.26,279.93 L449.97,281.80 L450.67,283.67 L451.37,285.55 L452.06,287.42 L452.75,289.30 L453.43,291.18 L454.11,293.06 L454.78,294.95 L455.44,296.83 L456.10,298.72 L456.76,300.61 L457.41,302.50 L458.05,304.40 L458.69,306.29 L459.32,308.19 L459.95,310.09 L460.58,311.99 L461.19,313.89 L461.81,315.79 L462.42,317.70 L463.03,319.60 L463.63,321.51 L464.22,323.42 L464.82,325.33 L465.40,327.24 L465.99,329.15 L466.57,331.07 L467.14,332.98 L467.72,334.90 L468.28,336.82 L468.85,338.74 L469.41,340.66 L469.96,342.58 L470.52,344.50 L471.07,346.42 L471.61,348.35 L472.15,350.27 L472.69,352.20 L473.22,354.13 L473.75,356.06 L474.28,357.98 L474.80,359.92 L475.32,361.85 L475.84,363.78 L476.36,365.71 L476.87,367.64 L477.37,369.58 L477.88,371.51 L478.38,373.45 L478.88,375.39 L479.37,377.33 L479.86,379.26 L480.35,381.20 L480.84,383.14 L481.32,385.08 L481.80,387.03 L482.28,388.97 L482.75,390.91" transform="translate(0.25,0)" stroke-width="1.45" stroke-dasharray="4.5 1.8" stroke-dashoffset="1.6"/>
<path d="M95.70,156.72 L97.66,156.32 L99.62,155.92 L101.58,155.52 L103.54,155.11 L105.49,154.70 L107.45,154.29 L109.41,153.88 L111.37,153.47 L113.32,153.06 L115.28,152.65 L117.24,152.23 L119.19,151.82 L121.15,151.40 L123.11,150.99 L125.06,150.57 L127.02,150.15 L128.97,149.73 L130.93,149.31 L132.89,148.90 L134.84,148.48 L136.80,148.06 L138.75,147.64 L140.71,147.22 L142.66,146.80 L144.62,146.39 L146.58,145.97 L148.53,145.55 L150.49,145.14 L152.44,144.72 L154.40,144.31 L156.36,143.89 L158.32,143.48 L160.27,143.07 L162.23,142.66 L164.19,142.26 L166.15,141.85 L168.11,141.45 L170.06,141.04 L172.02,140.64 L173.98,140.25 L175.94,139.85 L177.91,139.46 L179.87,139.07 L181.83,138.68 L183.79,138.30 L185.76,137.91 L187.72,137.54 L189.68,137.16 L191.65,136.79 L193.62,136.42 L195.58,136.06 L197.55,135.70 L199.52,135.35 L201.49,135.00 L203.46,134.65 L205.43,134.31 L207.40,133.98 L209.37,133.64 L211.35,133.32 L213.32,133.00 L215.30,132.69 L217.27,132.38 L219.25,132.08 L221.23,131.79 L223.21,131.50 L225.19,131.22 L227.17,130.95 L229.15,130.68 L231.13,130.43 L233.12,130.18 L235.10,129.94 L237.09,129.71 L239.08,129.48 L241.07,129.27 L243.06,129.07 L245.05,128.87 L247.04,128.69 L249.03,128.52 L251.02,128.36 L253.02,128.21 L255.01,128.07 L257.01,127.94 L259.01,127.82 L261.00,127.72 L263.00,127.63 L265.00,127.56 L267.00,127.50 L269.00,127.45 L271.00,127.42 L273.00,127.40 L275.00,127.39 L277.00,127.41 L279.00,127.44 L281.00,127.48 L283.00,127.55 L285.00,127.63 L286.99,127.72 L288.99,127.84 L290.98,127.98 L292.98,128.13 L294.97,128.31 L296.96,128.50 L298.95,128.72 L300.94,128.95 L302.92,129.21 L304.90,129.49 L306.88,129.79 L308.85,130.11 L310.82,130.46 L312.79,130.83 L314.75,131.22 L316.70,131.64 L318.65,132.08 L320.60,132.55 L322.54,133.04 L324.47,133.56 L326.39,134.10 L328.31,134.67 L330.22,135.26 L332.12,135.88 L334.02,136.52 L335.90,137.20 L337.78,137.89 L339.64,138.62 L341.49,139.37 L343.34,140.14 L345.17,140.94 L346.99,141.77 L348.80,142.63 L350.59,143.51 L352.38,144.41 L354.15,145.34 L355.90,146.30 L357.65,147.28 L359.38,148.28 L361.09,149.31 L362.79,150.37 L364.48,151.45 L366.15,152.55 L367.80,153.67 L369.44,154.81 L371.06,155.98 L372.67,157.17 L374.26,158.38 L375.84,159.61 L377.40,160.86 L378.94,162.13 L380.47,163.43 L381.98,164.73 L383.48,166.06 L384.96,167.41 L386.42,168.77 L387.87,170.15 L389.30,171.55 L390.72,172.96 L392.12,174.39 L393.51,175.83 L394.88,177.29 L396.23,178.76 L397.57,180.24 L398.89,181.74 L400.20,183.25 L401.50,184.78 L402.78,186.32 L404.04,187.87 L405.29,189.43 L406.53,191.00 L407.75,192.58 L408.96,194.17 L410.16,195.78 L411.34,197.39 L412.51,199.01 L413.66,200.64 L414.81,202.28 L415.94,203.93 L417.06,205.59 L418.16,207.26 L419.26,208.93 L420.34,210.61 L421.41,212.30 L422.47,214.00 L423.52,215.70 L424.55,217.41 L425.58,219.13 L426.60,220.85 L427.60,222.58 L428.59,224.32 L429.58,226.06 L430.55,227.81 L431.52,229.56 L432.47,231.32 L433.41,233.08 L434.35,234.85 L435.28,236.62 L436.19,238.40 L437.10,240.18 L438.00,241.97 L438.89,243.76 L439.77,245.55 L440.65,247.35 L441.51,249.15 L442.37,250.96 L443.22,252.77 L444.06,254.59 L444.89,256.40 L445.72,258.23 L446.54,260.05 L447.35,261.88 L448.15,263.71 L448.95,265.54 L449.74,267.38 L450.52,269.22 L451.30,271.07 L452.07,272.91 L452.83,274.76 L453.59,276.61 L454.34,278.47 L455.08,280.32 L455.82,282.18 L456.55,284.04 L457.28,285.91 L458.00,287.77 L458.71,289.64 L459.42,291.51 L460.12,293.38 L460.82,295.26 L461.51,297.13 L462.20,299.01 L462.88,300.89 L463.55,302.78 L464.22,304.66 L464.89,306.55 L465.55,308.43 L466.20,310.32 L466.85,312.22 L467.50,314.11 L468.14,316.00 L468.78,317.90 L469.41,319.80 L470.03,321.70 L470.66,323.60 L471.27,325.50 L471.89,327.40 L472.50,329.31 L473.10,331.21 L473.70,333.12 L474.30,335.03 L474.89,336.94 L475.48,338.85 L476.07,340.76 L476.65,342.68 L477.22,344.59 L477.80,346.51 L478.37,348.43 L478.93,350.35 L479.49,352.26 L480.05,354.19 L480.61,356.11 L481.16,358.03 L481.71,359.95 L482.25,361.88 L482.79,363.80 L483.33,365.73 L483.86,367.66 L484.39,369.58 L484.92,371.51 L485.44,373.44 L485.97,375.37 L486.48,377.31 L487.00,379.24 L487.51,381.17 L488.02,383.11 L488.52,385.04 L489.03,386.98 L489.53,388.91 L490.02,390.85" transform="translate(-0.25,0)" stroke-width="1.35"/>
<path d="M95.70,156.72 L97.66,156.32 L99.62,155.92 L101.58,155.52 L103.54,155.11 L105.49,154.70 L107.45,154.29 L109.41,153.88 L111.37,153.47 L113.32,153.06 L115.28,152.65 L117.24,152.23 L119.19,151.82 L121.15,151.40 L123.11,150.99 L125.06,150.57 L127.02,150.15 L128.97,149.73 L130.93,149.31 L132.89,148.90 L134.84,148.48 L136.80,148.06 L138.75,147.64 L140.71,147.22 L142.66,146.80 L144.62,146.39 L146.58,145.97 L148.53,145.55 L150.49,145.14 L152.44,144.72 L154.40,144.31 L156.36,143.89 L158.32,143.48 L160.27,143.07 L162.23,142.66 L164.19,142.26 L166.15,141.85 L168.11,141.45 L170.06,141.04 L172.02,140.64 L173.98,140.25 L175.94,139.85 L177.91,139.46 L179.87,139.07 L181.83,138.68 L183.79,138.30 L185.76,137.91 L187.72,137.54 L189.68,137.16 L191.65,136.79 L193.62,136.42 L195.58,136.06 L197.55,135.70 L199.52,135.35 L201.49,135.00 L203.46,134.65 L205.43,134.31 L207.40,133.98 L209.37,133.64 L211.35,133.32 L213.32,133.00 L215.30,132.69 L217.27,132.38 L219.25,132.08 L221.23,131.79 L223.21,131.50 L225.19,131.22 L227.17,130.95 L229.15,130.68 L231.13,130.43 L233.12,130.18 L235.10,129.94 L237.09,129.71 L239.08,129.48 L241.07,129.27 L243.06,129.07 L245.05,128.87 L247.04,128.69 L249.03,128.52 L251.02,128.36 L253.02,128.21 L255.01,128.07 L257.01,127.94 L259.01,127.82 L261.00,127.72 L263.00,127.63 L265.00,127.56 L267.00,127.50 L269.00,127.45 L271.00,127.42 L273.00,127.40 L275.00,127.39 L277.00,127.41 L279.00,127.44 L281.00,127.48 L283.00,127.55 L285.00,127.63 L286.99,127.72 L288.99,127.84 L290.98,127.98 L292.98,128.13 L294.97,128.31 L296.96,128.50 L298.95,128.72 L300.94,128.95 L302.92,129.21 L304.90,129.49 L306.88,129.79 L308.85,130.11 L310.82,130.46 L312.79,130.83 L314.75,131.22 L316.70,131.64 L318.65,132.08 L320.60,132.55 L322.54,133.04 L324.47,133.56 L326.39,134.10 L328.31,134.67 L330.22,135.26 L332.12,135.88 L334.02,136.52 L335.90,137.20 L337.78,137.89 L339.64,138.62 L341.49,139.37 L343.34,140.14 L345.17,140.94 L346.99,141.77 L348.80,142.63 L350.59,143.51 L352.38,144.41 L354.15,145.34 L355.90,146.30 L357.65,147.28 L359.38,148.28 L361.09,149.31 L362.79,150.37 L364.48,151.45 L366.15,152.55 L367.80,153.67 L369.44,154.81 L371.06,155.98 L372.67,157.17 L374.26,158.38 L375.84,159.61 L377.40,160.86 L378.94,162.13 L380.47,163.43 L381.98,164.73 L383.48,166.06 L384.96,167.41 L386.42,168.77 L387.87,170.15 L389.30,171.55 L390.72,172.96 L392.12,174.39 L393.51,175.83 L394.88,177.29 L396.23,178.76 L397.57,180.24 L398.89,181.74 L400.20,183.25 L401.50,184.78 L402.78,186.32 L404.04,187.87 L405.29,189.43 L406.53,191.00 L407.75,192.58 L408.96,194.17 L410.16,195.78 L411.34,197.39 L412.51,199.01 L413.66,200.64 L414.81,202.28 L415.94,203.93 L417.06,205.59 L418.16,207.26 L419.26,208.93 L420.34,210.61 L421.41,212.30 L422.47,214.00 L423.52,215.70 L424.55,217.41 L425.58,219.13 L426.60,220.85 L427.60,222.58 L428.59,224.32 L429.58,226.06 L430.55,227.81 L431.52,229.56 L432.47,231.32 L433.41,233.08 L434.35,234.85 L435.28,236.62 L436.19,238.40 L437.10,240.18 L438.00,241.97 L438.89,243.76 L439.77,245.55 L440.65,247.35 L441.51,249.15 L442.37,250.96 L443.22,252.77 L444.06,254.59 L444.89,256.40 L445.72,258.23 L446.54,260.05 L447.35,261.88 L448.15,263.71 L448.95,265.54 L449.74,267.38 L450.52,269.22 L451.30,271.07 L452.07,272.91 L452.83,274.76 L453.59,276.61 L454.34,278.47 L455.08,280.32 L455.82,282.18 L456.55,284.04 L457.28,285.91 L458.00,287.77 L458.71,289.64 L459.42,291.51 L460.12,293.38 L460.82,295.26 L461.51,297.13 L462.20,299.01 L462.88,300.89 L463.55,302.78 L464.22,304.66 L464.89,306.55 L465.55,308.43 L466.20,310.32 L466.85,312.22 L467.50,314.11 L468.14,316.00 L468.78,317.90 L469.41,319.80 L470.03,321.70 L470.66,323.60 L471.27,325.50 L471.89,327.40 L472.50,329.31 L473.10,331.21 L473.70,333.12 L474.30,335.03 L474.89,336.94 L475.48,338.85 L476.07,340.76 L476.65,342.68 L477.22,344.59 L477.80,346.51 L478.37,348.43 L478.93,350.35 L479.49,352.26 L480.05,354.19 L480.61,356.11 L481.16,358.03 L481.71,359.95 L482.25,361.88 L482.79,363.80 L483.33,365.73 L483.86,367.66 L484.39,369.58 L484.92,371.51 L485.44,373.44 L485.97,375.37 L486.48,377.31 L487.00,379.24 L487.51,381.17 L488.02,383.11 L488.52,385.04 L489.03,386.98 L489.53,388.91 L490.02,390.85" transform="translate(0.25,0)" stroke-width="1.35"/>
</g>
<path d="M487.8,241.45 L477.6,241.45 L427.61,260.55" stroke="#000" stroke-width="1.1" fill="none"/><path d="M417.8,264.3 L426.89,258.68 L428.32,262.42 Z" fill="#000"/>
<path d="M487.8,264.45 L475.5,264.45 L450.71,273.94" stroke="#000" stroke-width="1.1" fill="none"/><path d="M440.9,277.7 L449.99,272.08 L451.42,275.81 Z" fill="#000"/>
<path d="M487.5,286.6 L476.6,286.6 L465.63,291.05" stroke="#000" stroke-width="1.1" fill="none"/><path d="M455.9,295.0 L464.88,289.20 L466.38,292.91 Z" fill="#000"/>
<text transform="translate(63.54,18.40) scale(1.3522,1)" font-family="Liberation Sans" font-weight="bold" font-size="12.46" fill="#000" stroke="#000" stroke-width="0.6" >10</text>
<text transform="translate(84.94,13.15) scale(0.7252,1)" font-family="Liberation Sans" font-weight="bold" font-size="9.59" fill="#000" stroke="#000" stroke-width="0.5" >1</text>
<text transform="translate(63.54,111.30) scale(1.3522,1)" font-family="Liberation Sans" font-weight="bold" font-size="12.46" fill="#000" stroke="#000" stroke-width="0.6" >10</text>
<text transform="translate(83.55,106.05) scale(1.2011,1)" font-family="Liberation Sans" font-weight="bold" font-size="9.45" fill="#000" stroke="#000" stroke-width="0.5" >0</text>
<text transform="translate(55.76,204.10) scale(1.3295,1)" font-family="Liberation Sans" font-weight="bold" font-size="12.46" fill="#000" stroke="#000" stroke-width="0.6" >10</text>
<rect x="75.4" y="195.20" width="6.4" height="1.4" fill="#000"/>
<text transform="translate(83.50,198.85) scale(0.8578,1)" font-family="Liberation Sans" font-weight="bold" font-size="9.45" fill="#000" stroke="#000" stroke-width="0.5" >1</text>
<text transform="translate(55.76,297.10) scale(1.3295,1)" font-family="Liberation Sans" font-weight="bold" font-size="12.46" fill="#000" stroke="#000" stroke-width="0.6" >10</text>
<rect x="75.4" y="288.20" width="6.4" height="1.4" fill="#000"/>
<text transform="translate(82.10,291.85) scale(1.3248,1)" font-family="Liberation Sans" font-weight="bold" font-size="9.31" fill="#000" stroke="#000" stroke-width="0.5" >2</text>
<text transform="translate(55.76,390.20) scale(1.3295,1)" font-family="Liberation Sans" font-weight="bold" font-size="12.46" fill="#000" stroke="#000" stroke-width="0.6" >10</text>
<rect x="75.4" y="381.30" width="6.4" height="1.4" fill="#000"/>
<text transform="translate(82.25,384.95) scale(1.2872,1)" font-family="Liberation Sans" font-weight="bold" font-size="9.31" fill="#000" stroke="#000" stroke-width="0.5" >3</text>
<text transform="translate(82.18,400.90) scale(1.3512,1)" font-family="Liberation Sans" font-weight="bold" font-size="11.74" fill="#000" stroke="#000" stroke-width="0.6" >0.1</text>
<text transform="translate(308.38,400.90) scale(1.4136,1)" font-family="Liberation Sans" font-weight="bold" font-size="11.74" fill="#000" stroke="#000" stroke-width="0.6" >1.0</text>
<text transform="translate(526.56,400.90) scale(1.4661,1)" font-family="Liberation Sans" font-weight="bold" font-size="11.74" fill="#000" stroke="#000" stroke-width="0.6" >10.0</text>
<text transform="translate(322.70,246.50) scale(1.2727,1)" font-family="Liberation Sans" font-weight="bold" font-size="13.46" fill="#000" stroke="#000" stroke-width="0.6" >1.0</text>
<text transform="translate(363.51,268.80) scale(1.2281,1)" font-family="Liberation Sans" font-weight="bold" font-size="13.61" fill="#000" stroke="#000" stroke-width="0.6" >0.3</text>
<text transform="translate(490.21,245.70) scale(1.2658,1)" font-family="Liberation Sans" font-weight="bold" font-size="13.46" fill="#000" stroke="#000" stroke-width="0.6" >0.1</text>
<text transform="translate(489.89,268.60) scale(1.2975,1)" font-family="Liberation Sans" font-weight="bold" font-size="13.61" fill="#000" stroke="#000" stroke-width="0.6" >0.03</text>
<text transform="translate(489.90,290.90) scale(1.2258,1)" font-family="Liberation Sans" font-weight="bold" font-size="13.75" fill="#000" stroke="#000" stroke-width="0.6" >0.01</text>
<text transform="translate(414.04,55.95) scale(1.3593,1)" font-family="Liberation Sans" font-weight="bold" font-size="17.01" fill="#000" stroke="#000" stroke-width="0.3" >=</text>
<text transform="translate(435.29,55.95) scale(0.9862,1)" font-family="Liberation Sans" font-weight="bold" font-size="17.01" fill="#000" stroke="#000" stroke-width="0.3" >1</text>
<text transform="translate(391.06,55.80) scale(1.3251,1)" font-family="Liberation Serif" font-weight="normal" font-size="17.22" fill="#000" stroke="#000" stroke-width="0.6" >Θ</text>
<text transform="translate(391.26,80.95) scale(1.3521,1)" font-family="Liberation Sans" font-weight="bold" font-size="17.39" fill="#000" stroke="#000" stroke-width="0.3" >ln</text>
<text transform="translate(419.64,80.80) scale(1.0349,1)" font-family="Liberation Serif" font-weight="normal" font-size="16.97" fill="#000" stroke="#000" stroke-width="0.6" >Λ</text>
<text transform="translate(440.79,80.95) scale(1.4613,1)" font-family="Liberation Sans" font-weight="bold" font-size="17.01" fill="#000" stroke="#000" stroke-width="0.3" >=</text>
<text transform="translate(461.39,80.95) scale(1.4148,1)" font-family="Liberation Sans" font-weight="bold" font-size="16.76" fill="#000" stroke="#000" stroke-width="0.3" >20</text>
<text transform="translate(171.48,425.73) scale(1.3120,1)" font-family="Liberation Sans" font-weight="bold" font-size="16.22" fill="#000" stroke="#000" stroke-width="0.15" >Electron kinetic energy [MeV]</text>
<text transform="translate(37.8,280.92) rotate(-90) scale(1,1.2926)" font-family="Liberation Sans" font-weight="bold" font-size="15.16">dN/dE [Electrons/MeV]</text>
</svg>
</body></html>
